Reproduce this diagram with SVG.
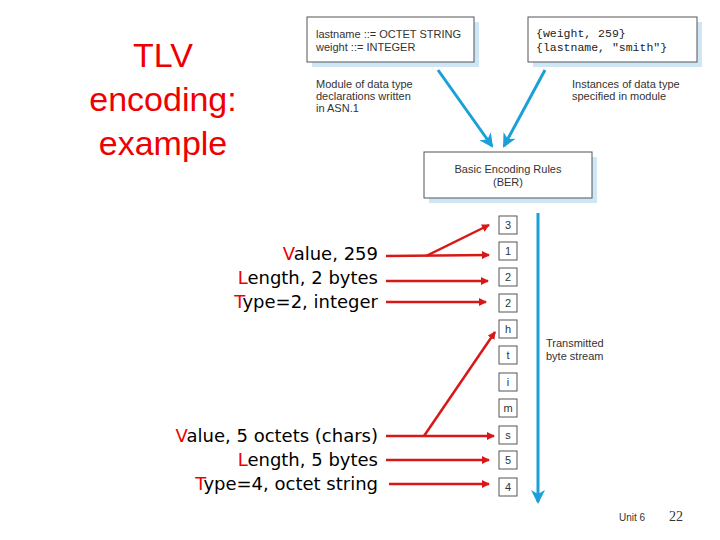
<svg xmlns="http://www.w3.org/2000/svg" width="720" height="540" viewBox="0 0 720 540">
<style>
.sh{fill:#cfe6f5}
.bx{fill:#fff;stroke:#555;stroke-width:1}
.ft{font-family:"Liberation Sans",Arial,sans-serif;font-size:11px;fill:#333}
.mono{font-family:"Liberation Mono",monospace;font-size:11.5px;fill:#222}
.lab{font-family:"DejaVu Sans",sans-serif;font-size:18px;fill:#000;text-anchor:end}
.r{fill:#e00}
.red{stroke:#d81818;stroke-width:2.5;fill:none}
.blue{stroke:#1aa0d8;stroke-width:3;fill:none}
.cell{fill:#fff;stroke:#555;stroke-width:1}
.ct{font-family:"Liberation Sans",sans-serif;font-size:11px;fill:#333;text-anchor:middle}
</style>
<defs>
<marker id="ra" markerWidth="8" markerHeight="8" refX="7" refY="4" orient="auto" markerUnits="userSpaceOnUse" viewBox="0 0 8 8"><path d="M0,0L8,4L0,8z" fill="#d81818"/></marker>
<marker id="ba" markerWidth="14" markerHeight="14" refX="12" refY="7" orient="auto" markerUnits="userSpaceOnUse" viewBox="0 0 14 14"><path d="M0,0L14,7L0,14L4,7z" fill="#1aa0d8"/></marker>
</defs>
<rect width="720" height="540" fill="#fff"/>
<text x="163" y="67" font-family="Liberation Sans,Arial,sans-serif" font-size="34" fill="#e00" text-anchor="middle"><tspan x="163">TLV</tspan><tspan x="163" dy="44">encoding:</tspan><tspan x="163" dy="44">example</tspan></text>
<g id="asn">
<rect class="sh" x="312" y="22" width="167" height="45"/>
<rect class="bx" x="307" y="17" width="167" height="45"/>
<text class="ft" x="316" y="38">lastname ::= OCTET STRING</text>
<text class="ft" x="316" y="51">weight ::= INTEGER</text>
<text class="ft" x="316" y="88">Module of data type</text>
<text class="ft" x="316" y="100">declarations written</text>
<text class="ft" x="316" y="112">in ASN.1</text>
</g>
<g id="inst">
<rect class="sh" x="533" y="22" width="169" height="45"/>
<rect class="bx" x="528" y="17" width="169" height="45"/>
<text class="mono" x="536" y="37">{weight, 259}</text>
<text class="mono" x="536" y="51">{lastname, "smith"}</text>
<text class="ft" x="572" y="88">Instances of data type</text>
<text class="ft" x="572" y="100">specified in module</text>
</g>
<g id="ber">
<rect class="sh" x="429" y="157" width="168" height="46"/>
<rect class="bx" x="424" y="152" width="168" height="46"/>
<text class="ft" x="508" y="173" text-anchor="middle">Basic Encoding Rules</text>
<text class="ft" x="508" y="186" text-anchor="middle">(BER)</text>
</g>
<g id="stream">
<rect class="cell" x="499" y="216" width="18" height="18"/><text class="ct" x="508" y="229">3</text>
<rect class="cell" x="499" y="242" width="18" height="18"/><text class="ct" x="508" y="255">1</text>
<rect class="cell" x="499" y="268" width="18" height="18"/><text class="ct" x="508" y="281">2</text>
<rect class="cell" x="499" y="294" width="18" height="18"/><text class="ct" x="508" y="307">2</text>
<rect class="cell" x="499" y="320" width="18" height="18"/><text class="ct" x="508" y="333">h</text>
<rect class="cell" x="499" y="346" width="18" height="18"/><text class="ct" x="508" y="359">t</text>
<rect class="cell" x="499" y="373" width="18" height="18"/><text class="ct" x="508" y="386">i</text>
<rect class="cell" x="499" y="399" width="18" height="18"/><text class="ct" x="508" y="412">m</text>
<rect class="cell" x="499" y="426" width="18" height="18"/><text class="ct" x="508" y="439">s</text>
<rect class="cell" x="499" y="451" width="18" height="18"/><text class="ct" x="508" y="464">5</text>
<rect class="cell" x="499" y="478" width="18" height="18"/><text class="ct" x="508" y="491">4</text>
<text class="ft" x="546" y="347">Transmitted</text>
<text class="ft" x="546" y="360">byte stream</text>
</g>
<g id="labels">
<text class="lab" x="378" y="260"><tspan class="r">V</tspan>alue, 259</text>
<text class="lab" x="378" y="284"><tspan class="r">L</tspan>ength, 2 bytes</text>
<text class="lab" x="378" y="308"><tspan class="r">T</tspan>ype=2, integer</text>
<text class="lab" x="378" y="442"><tspan class="r">V</tspan>alue, 5 octets (chars)</text>
<text class="lab" x="378" y="466"><tspan class="r">L</tspan>ength, 5 bytes</text>
<text class="lab" x="378" y="490"><tspan class="r">T</tspan>ype=4, octet string</text>
</g>
<g id="connectors">
<path class="blue" d="M438,70L492,146" marker-end="url(#ba)"/>
<path class="blue" d="M545,70L504,146" marker-end="url(#ba)"/>
<path class="blue" d="M538,213L538,502" marker-end="url(#ba)"/>
<path class="red" d="M386,256L489,255" marker-end="url(#ra)"/>
<path class="red" d="M426,256L489,225" marker-end="url(#ra)"/>
<path class="red" d="M386,281L488,281" marker-end="url(#ra)"/>
<path class="red" d="M386,302L486,302" marker-end="url(#ra)"/>
<path class="red" d="M386,436L494,436" marker-end="url(#ra)"/>
<path class="red" d="M424,436L495,332" marker-end="url(#ra)"/>
<path class="red" d="M386,460L489,460" marker-end="url(#ra)"/>
<path class="red" d="M389,484L489,484" marker-end="url(#ra)"/>
</g>
<text x="632" y="521" font-family="Liberation Sans,sans-serif" font-size="10" fill="#333" text-anchor="middle">Unit 6</text>
<text x="676" y="521" font-family="Liberation Serif,serif" font-size="14" fill="#333" text-anchor="middle">22</text>
</svg>
